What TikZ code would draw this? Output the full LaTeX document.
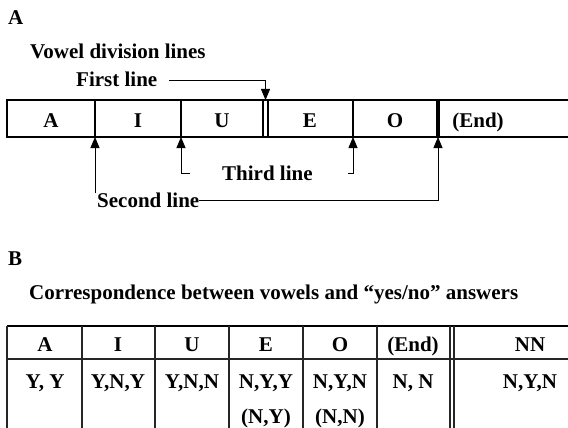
\documentclass[tikz,border=0pt]{standalone}
\usepackage{fontspec}
\setmainfont{Liberation Serif}
\usepackage{tikz}
\usetikzlibrary{arrows.meta, positioning}
\tikzstyle{tag} = [font=\bfseries\fontsize{21}{23}\selectfont, anchor=west, inner sep=0pt, text height=14pt, text depth=0pt]
\tikzstyle{cell} = [font=\bfseries\fontsize{21}{23}\selectfont, inner sep=0pt, text height=14pt, text depth=0pt]
\tikzstyle{frame} = [line width=2pt]
\tikzstyle{divider} = [line width=1.6pt]
\tikzstyle{grid} = [line width=1.4pt, black!85]
\tikzstyle{arrow} = [line width=0.8pt, -{Triangle[width=9pt,length=11pt]}]

\begin{document}
\begin{tikzpicture}[x=1pt, y=-1pt]
        \useasboundingbox (0,0) rectangle (568,428);
        \clip (0,0) rectangle (568,428);

        % panel A
        \node (pA) [tag] at (8,18) {A};
        \node (vdl) [tag] at (30,52) {Vowel division lines};
        \node (first) [tag] at (76,80) {First line};

        \draw [frame] (7,100) rectangle (590,137);
        \node (vA) [cell] at (51,121) {A};
        \node (vI) [cell] at (138,121) {I};
        \node (vU) [cell] at (222,121) {U};
        \node (vE) [cell] at (310,121) {E};
        \node (vO) [cell] at (395,121) {O};
        \node (vEnd) [cell] at (478,121) {(End)};

        \draw [divider] (95,100) -- (95,137) coordinate (d1);
        \draw [divider] (181,100) -- (181,137) coordinate (d2);
        \draw [divider] (263,100) -- (263,137);
        \draw [divider] (268,100) -- (268,137);
        \coordinate (dUE) at (265.5,100);
        \draw [divider] (353,100) -- (353,137) coordinate (d4);
        \draw [line width=4pt] (438,100) -- (438,137) coordinate (d5);

        \node (third) [tag] at (222,173) {Third line};
        \node (second) [tag] at (97,200) {Second line};

        \draw [arrow] ([xshift=12pt]first.east) -| (dUE);
        \draw [arrow] (d1 |- second.north) -- (d1);
        \draw [arrow] (second.east) -| (d5);
        \draw [arrow] ([xshift=-32pt]third.west) -| (d2);
        \draw [arrow] ([xshift=35pt]third.east) -| (d4);

        % panel B
        \node (pB) [tag] at (8,258) {B};
        \node (corr) [tag] at (29,292) {Correspondence between vowels and “yes/no” answers};

        \draw [frame] (7,326) -- (620,326);
        \draw [grid] (7,359) -- (620,359);
        \draw [grid] (7,326) -- (7,440);
        \draw [grid] (82,326) -- (82,440);
        \draw [grid] (155,326) -- (155,440);
        \draw [grid] (229,326) -- (229,440);
        \draw [grid] (303,326) -- (303,440);
        \draw [grid] (377,326) -- (377,440);
        \draw [grid] (450,326) -- (450,440);
        \draw [grid] (454,326) -- (454,440);

        \node (hA) [cell] at (45,344.5) {A};
        \node (hI) [cell] at (118,344.5) {I};
        \node (hU) [cell] at (192,344.5) {U};
        \node (hE) [cell] at (266,344.5) {E};
        \node (hO) [cell] at (340,344.5) {O};
        \node (hEnd) [cell] at (413,344.5) {(End)};
        \node (hNN) [cell] at (530,344.5) {NN};

        \node (rA) [cell] at (45,381) {Y, Y};
        \node (rI) [cell] at (118,381) {Y,N,Y};
        \node (rU) [cell] at (192,381) {Y,N,N};
        \node (rE) [cell] at (266,381) {N,Y,Y};
        \node (rO) [cell] at (340,381) {N,Y,N};
        \node (rEnd) [cell] at (413,381) {N, N};
        \node (rNN) [cell] at (530,381) {N,Y,N};
        \node (rE2) [cell, below=35pt of rE.center, anchor=center] {(N,Y)};
        \node (rO2) [cell, below=35pt of rO.center, anchor=center] {(N,N)};
    \end{tikzpicture}
\end{document}
